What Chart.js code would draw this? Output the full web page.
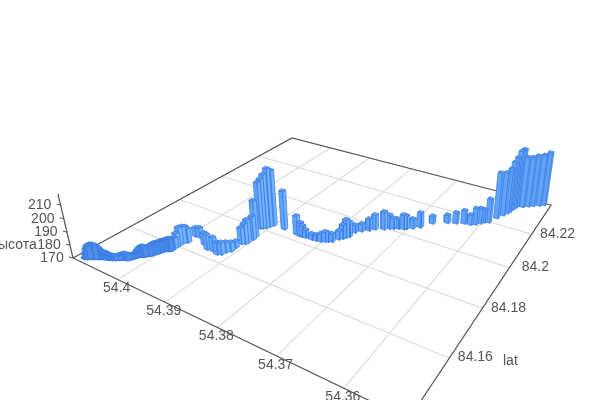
<!DOCTYPE html>
<html>
<head>
<meta charset="utf-8">
<style>
  html, body { margin: 0; padding: 0; background: #fff; }
  canvas { display: block; }
</style>
<script src="https://cdn.jsdelivr.net/npm/chart.js@4/dist/chart.umd.min.js"></script>
</head>
<body>
<canvas id="chart" width="600" height="400"></canvas>
<script>
// track, one bar per fix
const lon = [54.4090,54.4088,54.4086,54.4084,54.4082,54.4080,54.4078,54.4076,54.4074,54.4072,
  54.4070,54.4068,54.4066,54.4064,54.4062,54.4059,54.4056,54.4053,54.4050,54.4047,
  54.4045,54.4042,54.4040,54.4037,54.4034,54.4031,54.4029,54.4027,54.4026,54.4025,
  54.4024,54.4023,54.4023,54.4021,54.4019,54.4017,54.4015,54.4014,54.4013,54.4011,
  54.4009,54.4008,54.4007,54.4006,54.4005,54.4004,54.4003,54.4002,54.4001,54.4000,
  54.3999,54.3997,54.3995,54.3993,54.3991,
  54.3993,54.3992,
  54.3992,54.3992,54.3990,54.3987,54.3990,54.3982,54.3959,54.3945,54.3933,54.3922,
  54.3916,54.3914,54.3909,54.3910,54.3910,54.3905,54.3903,54.3902,54.3904,54.3915,
  54.3911,54.3907,54.3905,54.3901,54.3878,54.3850,54.3841,54.3838,54.3832,54.3820,
  54.3812,54.3804,54.3798,54.3794,54.3788,54.3782,54.3778,54.3775,54.3772,54.3771,
  54.3763,54.3754,54.3747,54.3734,54.3728,54.3722,54.3715,54.3707,54.3703,54.3694,
  54.3685,54.3672,54.3651,54.3638,54.3626,54.3615,54.3608,54.3602,54.3598,54.3591,
  54.3584,54.3578,54.3574,54.3572,54.3570,54.3568,54.3565,54.3558,54.3550,54.3543,
  54.3534,54.3527];
const lat = [84.1422,84.1424,84.1426,84.1428,84.1431,84.1433,84.1435,84.1437,84.1440,84.1442,
  84.1444,84.1446,84.1448,84.1450,84.1453,84.1453,84.1454,84.1457,84.1460,84.1463,
  84.1466,84.1469,84.1472,84.1475,84.1478,84.1480,84.1483,84.1487,84.1492,84.1496,
  84.1500,84.1503,84.1507,84.1510,84.1512,84.1514,84.1516,84.1520,84.1524,84.1526,
  84.1529,84.1533,84.1537,84.1541,84.1545,84.1549,84.1553,84.1557,84.1561,84.1565,
  84.1569,84.1571,84.1573,84.1575,84.1578,
  84.1593,84.1599,
  84.1611,84.1623,84.1631,84.1634,84.1669,84.1671,84.1650,84.1636,84.1638,84.1633,
  84.1639,84.1654,84.1665,84.1686,84.1710,84.1716,84.1724,84.1745,84.1759,84.1804,
  84.1809,84.1815,84.1828,84.1838,84.1838,84.1834,84.1832,84.1835,84.1835,84.1836,
  84.1838,84.1841,84.1847,84.1852,84.1858,84.1878,84.1888,84.1898,84.1907,84.1935,
  84.1951,84.1967,84.1982,84.1996,84.2009,84.2015,84.2023,84.2029,84.2034,84.2047,
  84.2064,84.2104,84.2131,84.2142,84.2155,84.2159,84.2168,84.2182,84.2193,84.2201,
  84.2238,84.2266,84.2285,84.2301,84.2318,84.2335,84.2349,84.2350,84.2363,84.2374,
  84.2387,84.2398];
const alt = [170.8,174.5,177.8,180,180.9,181.2,180.9,180.6,180.1,179,
  177.8,176.5,175.5,175,174.7,174.3,173.9,173.5,173.1,173,
  173.1,173.5,173.9,174.4,174.7,174.3,173.9,173.4,173.1,173.4,
  173.9,174.6,175.5,176.8,177.8,178,177.8,177,176.2,177,
  177.8,178.3,178.6,178.7,178.6,178.6,178.6,178.7,178.6,178.5,
  178.6,179,179.4,179.5,179.4,
  177.8,181.0,
  184.1,183.3,182.5,181.0,177.0,177.8,179.4,181.8,181.0,179.4,
  179.4,177.8,177.0,175.1,182.7,185.9,188.3,188.6,199.0,207.0,
  209.5,213.0,216.5,214.5,201.0,185.2,181.1,178.6,176.2,174.5,
  174.5,176.2,177.8,177.0,176.2,177.0,181.1,184.4,182.0,176.2,
  176.2,179.5,182.0,184.5,181.2,178.7,177.9,181.6,180.8,177.9,
  182.0,176.2,176.7,179.0,180.8,178.2,183.3,182.5,180.8,189.4,
  207.5,205.5,207.0,211.0,213.5,217.0,217.8,212.1,211.6,212.5,
  212.8,214.4];

const lonTicks = [54.4, 54.39, 54.38, 54.37, 54.36];
const latTicks = [84.16, 84.18, 84.2, 84.22];
const altTicks = [170, 180, 190, 200, 210];

const lonRange = [54.4106, 54.3515];
const latRange = [84.1404, 84.2407];
const altRange = [170, 218];

// floor corners on screen, and where the verticals meet
const corners = [[73, 258], [408.6, 419.4], [551, 205], [292, 138]];
const vertical = [362, 1490];
const lift = -0.0494;
const barSize = 0.014;
const denseBars = 55; // start of the track, bars pile up and read darker

const labelColor = '#555';
const font = '14px "Liberation Sans", Arial, sans-serif';

function floorMatrix(q) {
  const dx1 = q[1][0] - q[2][0], dx2 = q[3][0] - q[2][0], dx3 = q[0][0] - q[1][0] + q[2][0] - q[3][0];
  const dy1 = q[1][1] - q[2][1], dy2 = q[3][1] - q[2][1], dy3 = q[0][1] - q[1][1] + q[2][1] - q[3][1];
  const det = dx1 * dy2 - dx2 * dy1;
  const g = (dx3 * dy2 - dx2 * dy3) / det;
  const h = (dx1 * dy3 - dx3 * dy1) / det;
  return {
    g, h,
    a: q[1][0] - q[0][0] + g * q[1][0], b: q[3][0] - q[0][0] + h * q[3][0], c: q[0][0],
    d: q[1][1] - q[0][1] + g * q[1][1], e: q[3][1] - q[0][1] + h * q[3][1], f: q[0][1]
  };
}
const m = floorMatrix(corners);

// u along the lon axis, v along the lat axis, w up, all 0..1
function project(u, v, w) {
  const z = lift * w;
  const d = m.g * u + m.h * v + 1 + z;
  return {
    x: (m.a * u + m.b * v + m.c + z * vertical[0]) / d,
    y: (m.d * u + m.e * v + m.f + z * vertical[1]) / d
  };
}
const uOf = v => (v - lonRange[0]) / (lonRange[1] - lonRange[0]);
const vOf = v => (v - latRange[0]) / (latRange[1] - latRange[0]);
const wOf = v => (v - altRange[0]) / (altRange[1] - altRange[0]);

function lineSet(points, color, width) {
  return { data: points, showLine: true, pointRadius: 0, borderColor: color, borderWidth: width, fill: false, tension: 0 };
}
function faceSet(points, color) {
  return {
    data: points.concat([points[0]]), showLine: true, pointRadius: 0, tension: 0,
    fill: 'shape', backgroundColor: color, borderColor: '#3a7ae2', borderWidth: 0.7
  };
}

function barFaces(i) {
  const u = uOf(lon[i]), v = vOf(lat[i]), top = wOf(alt[i]), s = barSize / 2;
  const fl = project(u - s, v - s, 0), fc = project(u + s, v - s, 0), fr = project(u + s, v + s, 0);
  const tl = project(u - s, v - s, top), tc = project(u + s, v - s, top), tr = project(u + s, v + s, top), tb = project(u - s, v + s, top);
  const dense = i < denseBars;
  return [
    faceSet([tl, tc, tr, tb], dense ? '#4a8ae8' : '#5c9ff2'),
    faceSet([fc, fr, tr, tc], dense ? '#4f90ec' : '#70b4ff'),
    faceSet([fl, fc, tc, tl], dense ? '#4585e4' : '#5fa4f8')
  ];
}

// Chart.js paints the last dataset first, so nearest bars go first in the list
const order = lon.map((_, i) => i).sort((p, q) => project(uOf(lon[q]), vOf(lat[q]), 0).y - project(uOf(lon[p]), vOf(lat[p]), 0).y);
const datasets = [];
order.forEach(i => datasets.push(...barFaces(i)));

// box outline and z axis
datasets.push(lineSet([project(0, 0, 0), project(0, 0, 1)], '#555', 1.2));
altTicks.forEach(t => datasets.push(lineSet([project(0, 0, wOf(t)), { x: project(0, 0, wOf(t)).x - 4, y: project(0, 0, wOf(t)).y - 1 }], '#555', 1)));
datasets.push(lineSet([project(0, 0, 0), project(1, 0, 0), project(1, 1, 0), project(0, 1, 0), project(0, 0, 0)], '#555', 1.2));
// floor grid
lonTicks.forEach(t => datasets.push(lineSet([project(uOf(t), 0, 0), project(uOf(t), 1, 0)], '#dcdcdc', 1.2)));
latTicks.forEach(t => datasets.push(lineSet([project(0, vOf(t), 0), project(1, vOf(t), 0)], '#dcdcdc', 1.2)));

const axisText = {
  id: 'axisText',
  afterDatasetsDraw(chart) {
    const { ctx, scales } = chart;
    const put = (text, p, dx, dy) => ctx.fillText(text, scales.x.getPixelForValue(p.x) + dx, scales.y.getPixelForValue(p.y) + dy);
    ctx.save();
    ctx.font = font;
    ctx.fillStyle = labelColor;
    ctx.textAlign = 'center';
    ctx.textBaseline = 'middle';
    lonTicks.forEach(t => put(String(t), project(uOf(t), 0, 0), -1, 9));
    latTicks.forEach(t => put(String(t), project(1, vOf(t), 0), 26, -0.5));
    altTicks.forEach(t => put(String(t), project(0, 0, wOf(t)), -21, 0));
    put('lat', project(1, vOf(84.16), 0), 61, 3);
    put('высота', project(0, 0, wOf(181)), -56, 1);
    ctx.restore();
  }
};

new Chart(document.getElementById('chart'), {
  type: 'scatter',
  data: { datasets },
  plugins: [axisText],
  options: {
    responsive: false,
    animation: false,
    layout: { padding: 0 },
    plugins: { legend: { display: false }, tooltip: { enabled: false } },
    scales: {
      x: { type: 'linear', display: false, min: 0, max: 600 },
      y: { type: 'linear', display: false, min: 0, max: 400, reverse: true }
    }
  }
});
</script>
</body>
</html>
